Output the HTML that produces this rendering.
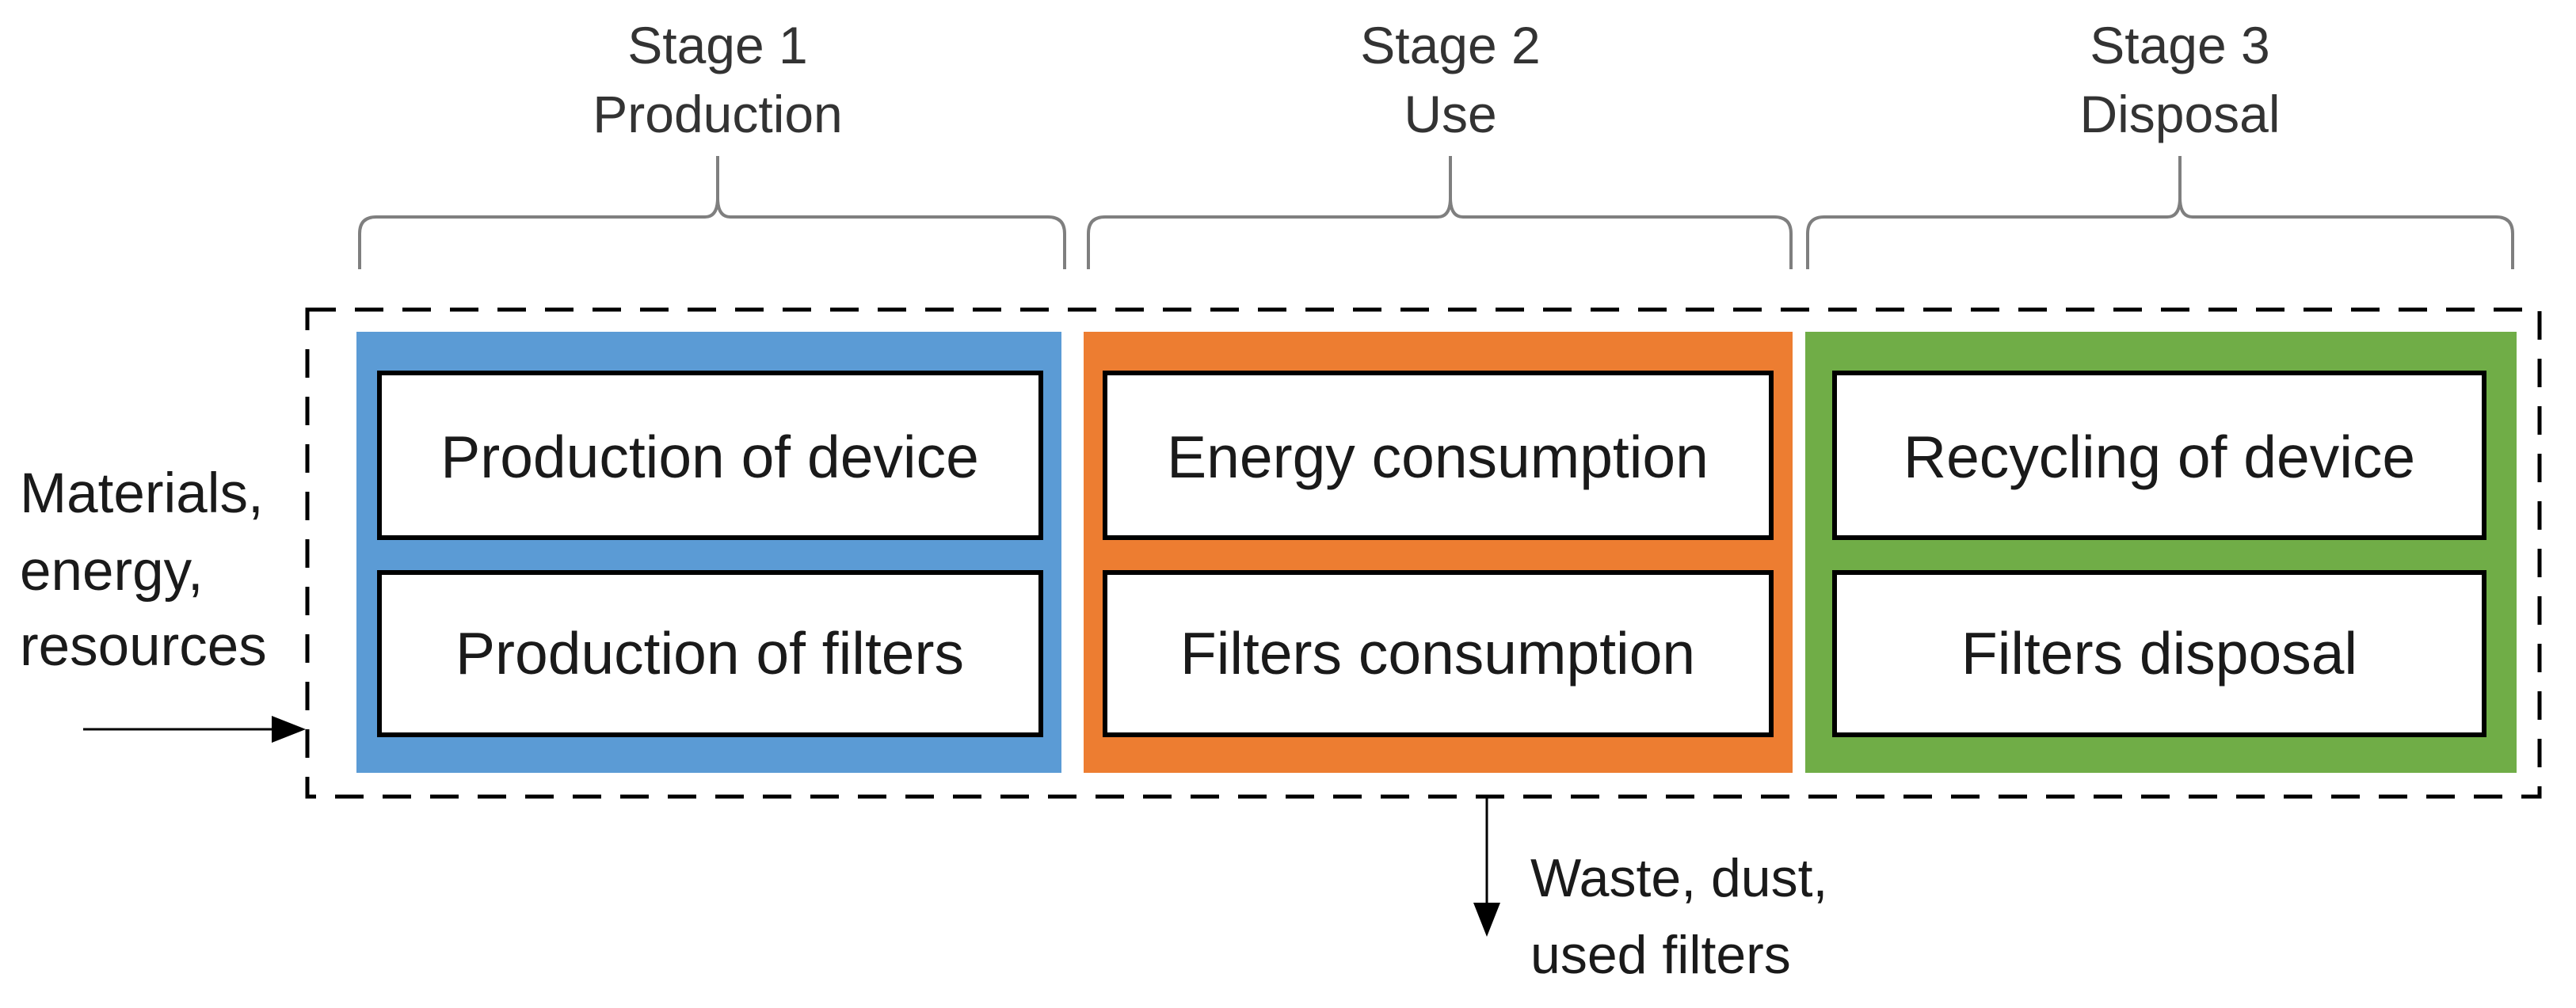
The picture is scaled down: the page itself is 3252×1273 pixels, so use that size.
<!DOCTYPE html>
<html><head><meta charset="utf-8"><style>html,body{margin:0;padding:0;background:#fff}svg{display:block}</style></head>
<body>
<svg width="3252" height="1273" viewBox="0 0 3252 1273" xmlns="http://www.w3.org/2000/svg" font-family="'Liberation Sans', sans-serif" fill="#1a1a1a">
<!-- stage labels -->
<g font-size="66" text-anchor="middle" fill="#333">
<text x="906" y="80">Stage 1</text><text x="906" y="167">Production</text>
<text x="1831" y="80">Stage 2</text><text x="1831" y="167">Use</text>
<text x="2752" y="80">Stage 3</text><text x="2752" y="167">Disposal</text>
</g>
<!-- braces -->
<g fill="none" stroke="#7f7f7f" stroke-width="4">
<path d="M454,340 L454,295 Q454,274 475,274 L890,274 Q906,274 906,250 L906,197 M906,250 Q906,274 922,274 L1323,274 Q1344,274 1344,295 L1344,340"/>
<path d="M1374,340 L1374,295 Q1374,274 1395,274 L1815,274 Q1831,274 1831,250 L1831,197 M1831,250 Q1831,274 1847,274 L2240,274 Q2261,274 2261,295 L2261,340"/>
<path d="M2282,340 L2282,295 Q2282,274 2303,274 L2736,274 Q2752,274 2752,250 L2752,197 M2752,250 Q2752,274 2768,274 L3151,274 Q3172,274 3172,295 L3172,340"/>
</g>
<!-- dashed box -->
<rect x="388" y="391" width="2818" height="615" fill="none" stroke="#000" stroke-width="5" stroke-dasharray="36,24"/>
<!-- colored boxes -->
<rect x="450" y="419" width="890" height="557" fill="#5b9bd5"/>
<rect x="1368" y="419" width="895" height="557" fill="#ed7d31"/>
<rect x="2279" y="419" width="898" height="557" fill="#70ad47"/>
<g fill="#fff" stroke="#000" stroke-width="6">
<rect x="479" y="471" width="835" height="208"/>
<rect x="479" y="723" width="835" height="205"/>
<rect x="1395" y="471" width="841" height="208"/>
<rect x="1395" y="723" width="841" height="205"/>
<rect x="2316" y="471" width="820" height="208"/>
<rect x="2316" y="723" width="820" height="205"/>
</g>
<g font-size="75" text-anchor="middle">
<text x="896" y="603">Production of device</text>
<text x="896" y="851">Production of filters</text>
<text x="1815" y="603">Energy consumption</text>
<text x="1815" y="851">Filters consumption</text>
<text x="2726" y="603">Recycling of device</text>
<text x="2726" y="851">Filters disposal</text>
</g>
<g font-size="71">
<text x="25" y="647">Materials,</text>
<text x="25" y="745">energy,</text>
<text x="25" y="840">resources</text>
</g>
<g font-size="68">
<text x="1932" y="1132">Waste, dust,</text>
<text x="1932" y="1229">used filters</text>
</g>
<line x1="105" y1="921" x2="343" y2="921" stroke="#000" stroke-width="3"/>
<path d="M343,904 L386,921 L343,938z" fill="#000"/>
<line x1="1877" y1="1006" x2="1877" y2="1140" stroke="#000" stroke-width="3"/>
<path d="M1860,1140 L1877,1183 L1894,1140z" fill="#000"/>
</svg>
</body></html>
